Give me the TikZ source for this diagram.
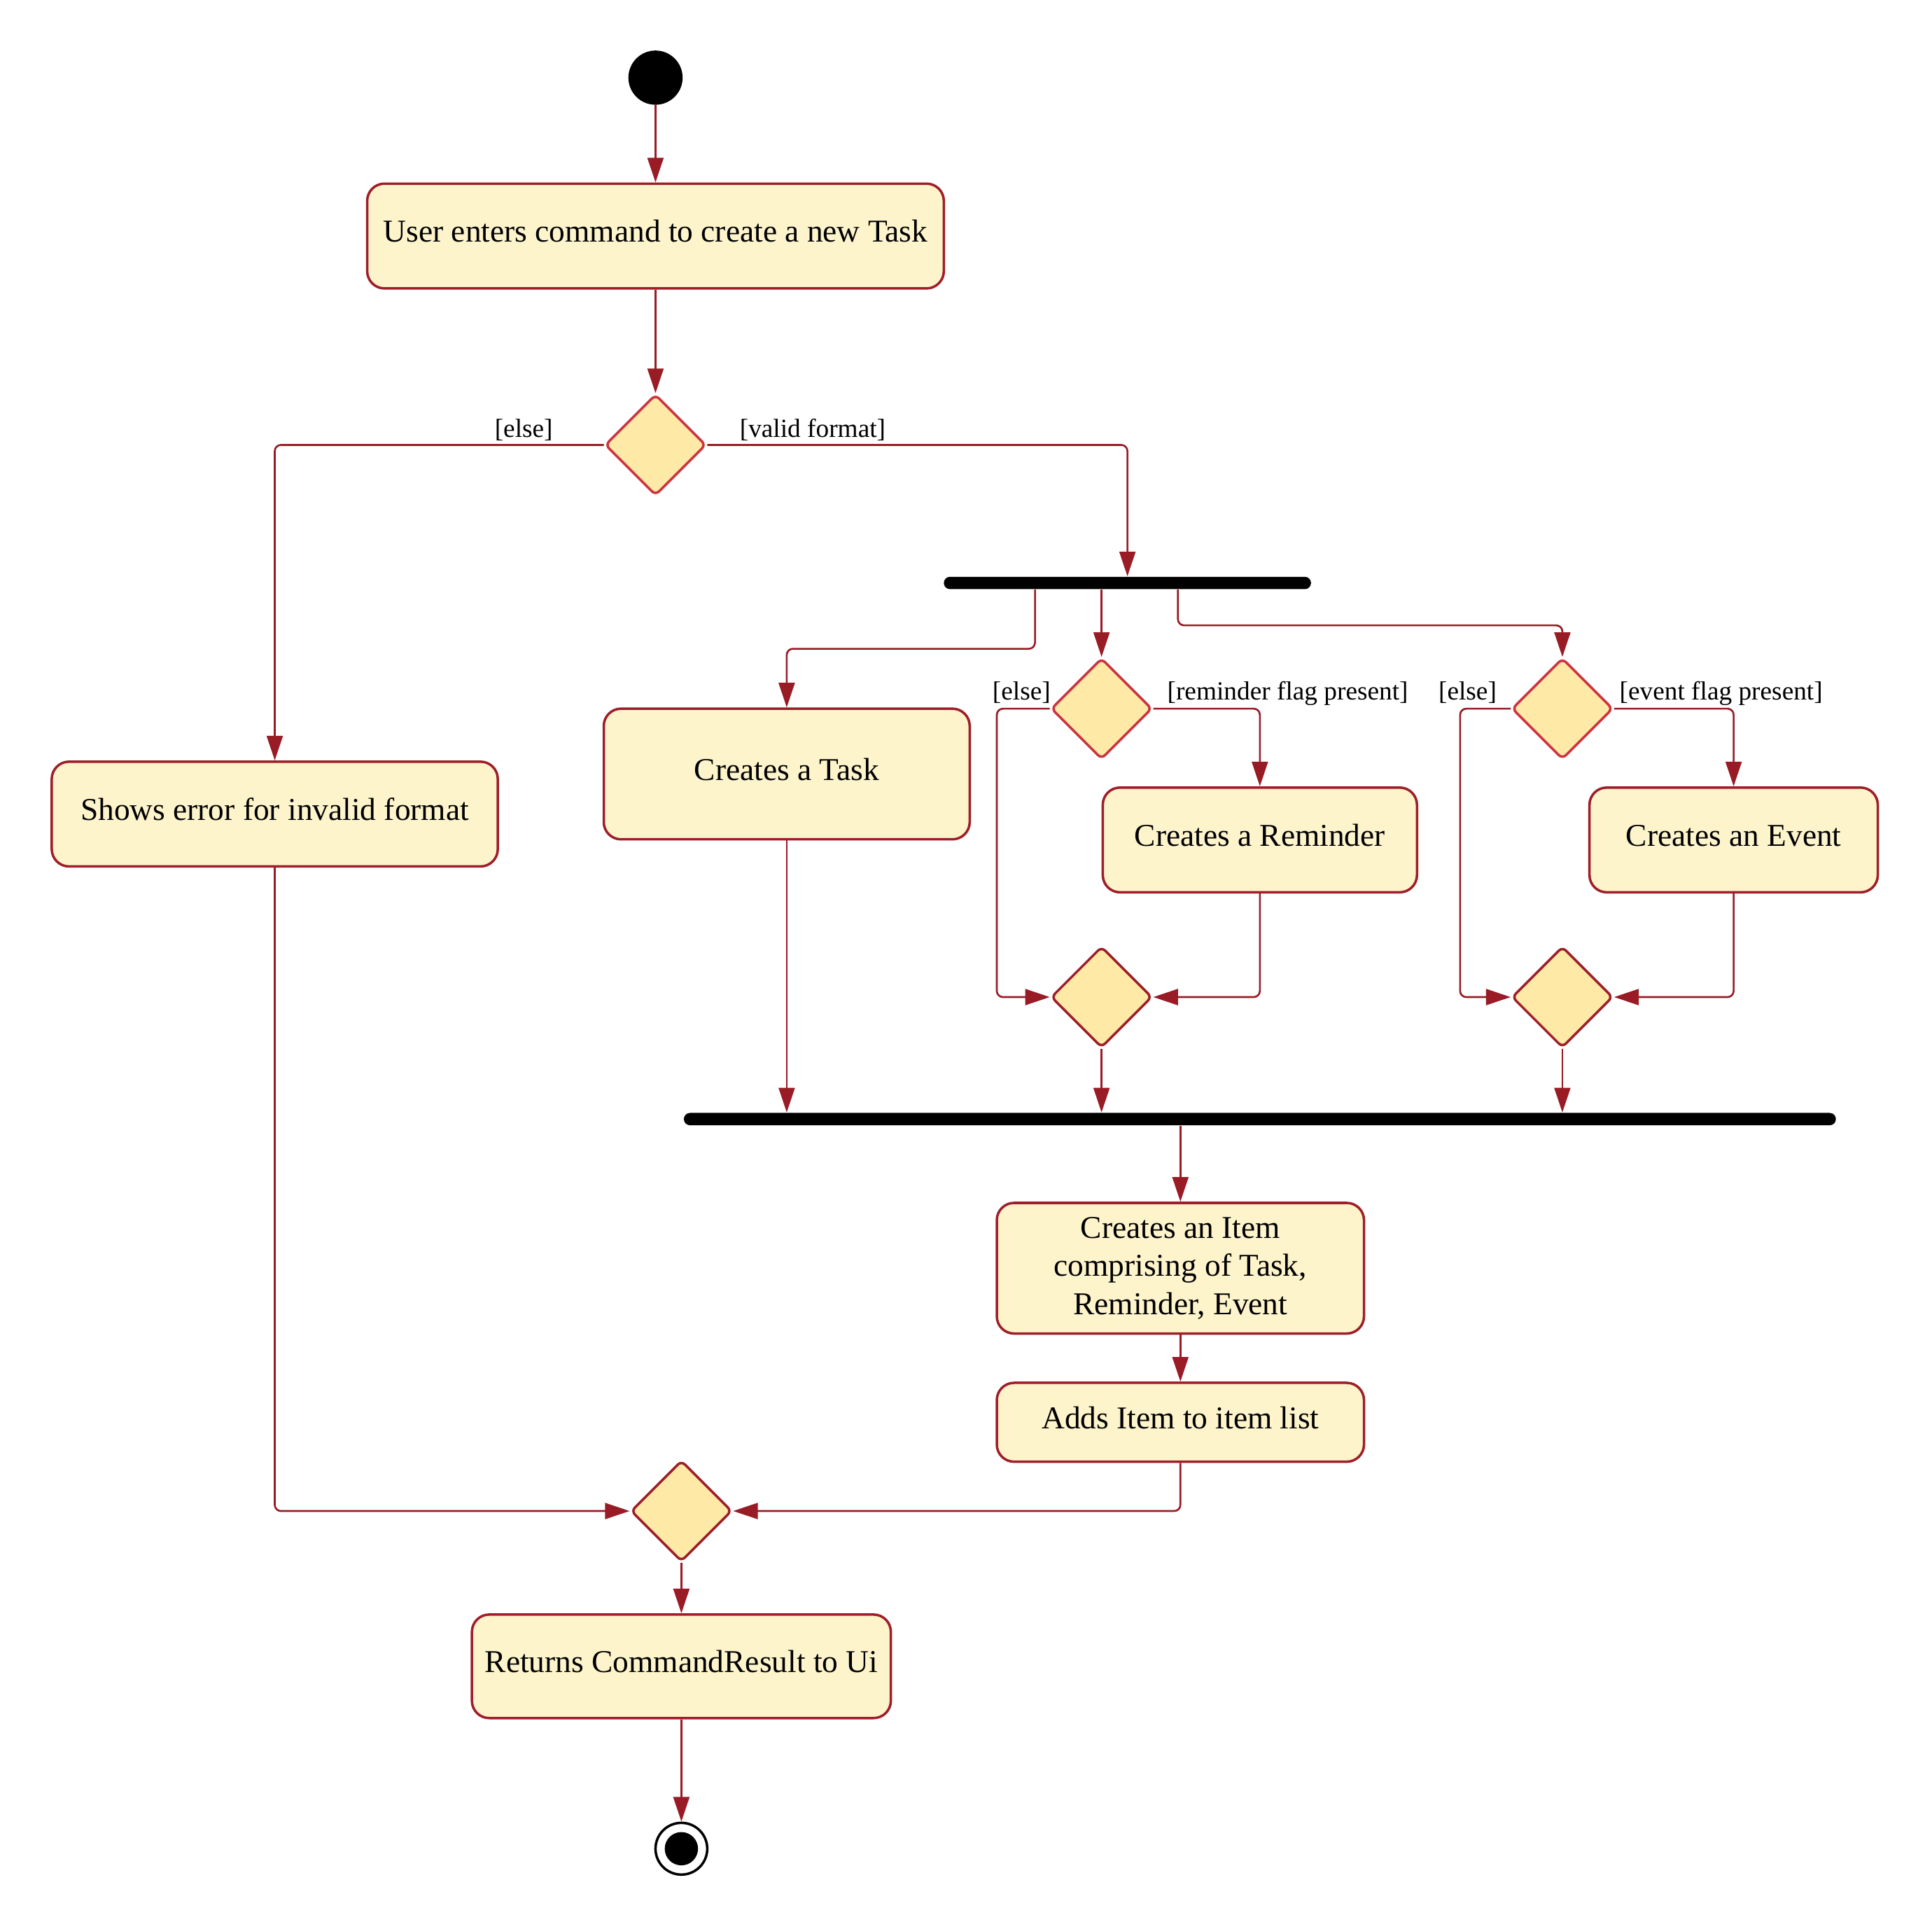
\documentclass[tikz,border=0pt]{standalone}
\usepackage{fontspec}
\setmainfont{Liberation Serif}
\usetikzlibrary{shapes.geometric,arrows.meta,calc}
\definecolor{boxfill}{HTML}{FEF4CC}
\definecolor{boxline}{HTML}{9E1E29}
\definecolor{dmfill}{HTML}{FEE9A6}
\definecolor{dmline}{HTML}{CC3340}
\definecolor{arrcol}{HTML}{981B25}
\tikzset{
  actbox/.style={draw=boxline,fill=boxfill,line width=1pt,rounded corners=7pt,inner sep=0pt,align=center,font=\fontsize{12.9}{15.5}\selectfont},
  oneline/.style={text height=9pt,text depth=4pt},
  decide/.style={diamond,draw=dmline,fill=dmfill,line width=1pt,rounded corners=2pt,inner sep=0pt,minimum width=41pt,minimum height=41pt},
  mergedm/.style={decide,draw=boxline},
  bar/.style={rectangle,fill=black,rounded corners=2.5pt,inner sep=0pt,minimum height=5pt},
  guard/.style={font=\fontsize{10.6}{12}\selectfont,inner sep=0pt},
  arr/.style={draw=arrcol,line width=0.75pt,rounded corners=2.5pt,-{Triangle[length=10pt,width=6.5pt]}}
}
\begin{document}
\begin{tikzpicture}[x=0.5pt,y=-0.5pt]
\useasboundingbox (0,0) rectangle (1568,1564.6);
% nodes
\node[circle,fill=black,inner sep=0pt,minimum size=22pt] (start) at (532,63) {};
\node[actbox,oneline,minimum width=234pt,minimum height=42.5pt] (b1) at (532,191.5) {User enters command to create a new Task};
\node[decide] (d1) at (532,361) {};
\node[actbox,oneline,minimum width=181pt,minimum height=42.5pt] (err) at (223,660.5) {Shows error for invalid format};
\node[bar,minimum width=149pt] (fork) at (915,473) {};
\node[actbox,oneline,minimum width=148.5pt,minimum height=53pt] (task) at (638.5,628) {Creates a Task};
\node[decide] (d2) at (894,575) {};
\node[actbox,oneline,minimum width=127.5pt,minimum height=42.5pt] (rem) at (1022.5,681.5) {Creates a Reminder};
\node[mergedm] (m2) at (894,809) {};
\node[decide] (d3) at (1268,575) {};
\node[actbox,oneline,minimum width=117pt,minimum height=42.5pt] (evt) at (1407,681.5) {Creates an Event};
\node[mergedm] (m3) at (1268,809) {};
\node[bar,minimum width=467.5pt] (join) at (1022.5,908) {};
\node[actbox,minimum width=149pt,minimum height=53pt] (item) at (958,1029) {Creates an Item\\comprising of Task,\\Reminder, Event};
\node[actbox,oneline,minimum width=149pt,minimum height=32pt] (adds) at (958,1154) {Adds Item to item list};
\node[mergedm] (m4) at (553,1226) {};
\node[actbox,oneline,minimum width=170pt,minimum height=42pt] (ret) at (553,1352) {Returns CommandResult to Ui};
\node[circle,draw=black,line width=1pt,fill=white,inner sep=0pt,minimum size=21pt] (stop) at (553,1500) {};
\node[circle,fill=black,inner sep=0pt,minimum size=13.5pt] (stopin) at (stop.center) {};
% guards
\node[guard,anchor=base east] (g1) at (449,355) {[else]};
\node[guard,anchor=base west] (g2) at (600,355) {[valid format]};
\node[guard,anchor=base east] (g3) at (853,568) {[else]};
\node[guard,anchor=base west] (g4) at (947,568) {[reminder flag present]};
\node[guard,anchor=base east] (g5) at (1215,568) {[else]};
\node[guard,anchor=base west] (g6) at (1314,568) {[event flag present]};
% connectors
\draw[arr] (start) -- (b1);
\draw[arr] (b1) -- (d1);
\draw[arr] (d1.west) -| (err.north);
\draw[arr] (d1.east) -| (fork.north);
\draw[arr] ([xshift=-37.5pt]fork.south) -- ++(0,48) -| (task.north);
\draw[arr] (fork.south -| d2.north) -- (d2.north);
\draw[arr] ([xshift=20.5pt]fork.south) -- ++(0,29) -| (d3.north);
\draw[arr] (d2.west) -- ++(-43,0) |- (m2.west);
\draw[arr] (d2.east) -| (rem.north);
\draw[arr] (rem.south) |- (m2.east);
\draw[arr] (d3.west) -- ++(-41,0) |- (m3.west);
\draw[arr] (d3.east) -| (evt.north);
\draw[arr] (evt.south) |- (m3.east);
\draw[arr] (task.south) -- (task.south |- join.north);
\draw[arr] (m2.south) -- (m2.south |- join.north);
\draw[arr] (m3.south) -- (m3.south |- join.north);
\draw[arr] (join.south -| item.north) -- (item.north);
\draw[arr] (item.south) -- (adds.north);
\draw[arr] (adds.south) |- (m4.east);
\draw[arr] (err.south) |- (m4.west);
\draw[arr] (m4.south) -- (ret.north);
\draw[arr] (ret.south) -- (stop.north);
\end{tikzpicture}
\end{document}
